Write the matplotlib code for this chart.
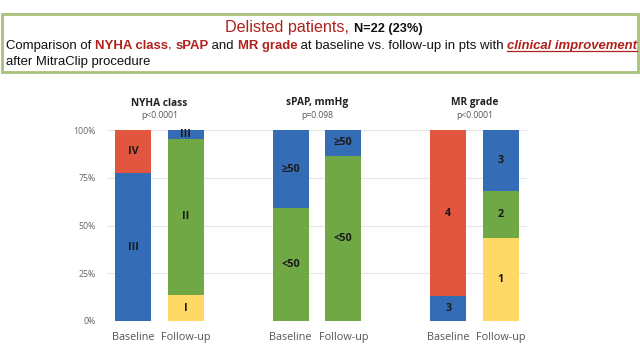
import numpy as np
import matplotlib
matplotlib.use("Agg")
import matplotlib.pyplot as plt
from matplotlib.patches import Rectangle
from matplotlib.transforms import blended_transform_factory

# data (percent of patients)
positions = [0, 1, 3, 4, 6, 7]
xlabels = ["Baseline", "Follow-up"] * 3
group_titles = ["NYHA class", "sPAP, mmHg", "MR grade"]
group_pvals = ["p<0.0001", "p=0.098", "p<0.0001"]

nyha_cats = ["I", "II", "III", "IV"]
nyha_base = [0, 0, 77.3, 22.7]
nyha_fu = [13.6, 81.9, 4.5, 0]

spap_cats = ["<50", "\u226550"]
spap_base = [59.1, 40.9]
spap_fu = [86.4, 13.6]

mr_cats = ["1", "2", "3", "4"]
mr_base = [0, 0, 13.0, 87.0]
mr_fu = [43.5, 24.5, 32.0, 0]

YELLOW = "#ffd966"
GREEN = "#6fa844"
BLUE = "#356cb6"
RED = "#e25640"
DARKRED = "#b0211b"

nyha_colors = [YELLOW, GREEN, BLUE, RED]
spap_colors = [GREEN, BLUE]
mr_colors = [YELLOW, GREEN, BLUE, RED]

W, H = 640, 360
fig = plt.figure(figsize=(6.4, 3.6), dpi=100)
fig.patch.set_facecolor("white")
renderer = fig.canvas.get_renderer()

# header box
fig.patches.append(Rectangle((2 / W, 1 - 72 / H), 636 / W, 58 / H, transform=fig.transFigure,
                             facecolor="white", edgecolor="#a8c27c", linewidth=2))


def rich(x, y, pieces, underline=()):
    # draw text pieces one after another, x,y in pixels from top-left
    for txt, kw in pieces:
        t = fig.text(x / W, 1 - y / H, txt, va="baseline", ha="left",
                     family="Liberation Sans", **kw)
        bb = t.get_window_extent(renderer)
        if txt in underline:
            fig.add_artist(plt.Line2D([bb.x0 / W, bb.x1 / W], [(H - y - 2) / H] * 2,
                                      color=kw.get("color", "k"), lw=0.9, transform=fig.transFigure))
        x = bb.x1


rich(225, 32, [("Delisted patients, ", dict(fontsize=11.6, color=DARKRED)),
               ("N=22 (23%)", dict(fontsize=9.2, weight="bold", color="#111111"))])
rb = dict(fontsize=9.45, weight="bold", color=DARKRED)
bk = dict(fontsize=9.45, color="#111111")
rich(6, 49, [("Comparison of ", bk), ("NYHA class", rb), (", ", bk), ("sPAP", rb),
             (" and ", bk), ("MR grade", rb), (" at baseline vs. follow-up in pts with ", bk),
             ("clinical improvement", dict(rb, style="italic"))],
     underline=("clinical improvement",))
rich(6, 65, [("after MitraClip procedure", bk)])

ax = fig.add_axes([107 / W, 1 - 321 / H, 420 / W, 191 / H])

bars = [(nyha_base, nyha_colors, nyha_cats), (nyha_fu, nyha_colors, nyha_cats),
        (spap_base, spap_colors, spap_cats), (spap_fu, spap_colors, spap_cats),
        (mr_base, mr_colors, mr_cats), (mr_fu, mr_colors, mr_cats)]

for pos, (vals, cols, cats) in zip(positions, bars):
    bottom = 0
    for v, c, lab in zip(vals, cols, cats):
        if v <= 0:
            continue
        ax.bar(pos, v / 100, bottom=bottom, width=0.69, color=c, zorder=2)
        ax.text(pos, bottom + v / 200, lab, ha="center", va="center", fontsize=7.8,
                weight="bold", color="#1a1a1a", family="Open Sans", zorder=3)
        bottom += v / 100

ax.set_xlim(-0.5, 7.5)
ax.set_ylim(0, 1)
ax.set_yticks([0, 0.25, 0.5, 0.75, 1])
ax.set_yticklabels(["0%", "25%", "50%", "75%", "100%"])
ax.set_xticks(positions)
ax.set_xticklabels(xlabels)
ax.grid(axis="y", color="#e6e6e6", lw=0.8, zorder=0)
for s in ax.spines.values():
    s.set_visible(False)
ax.tick_params(axis="both", length=0)
ax.tick_params(axis="y", labelsize=6.3, labelcolor="#666666", pad=8)
ax.tick_params(axis="x", labelsize=7.8, labelcolor="#555555", pad=8)
for lab in ax.get_xticklabels() + ax.get_yticklabels():
    lab.set_family("Open Sans")

tr = blended_transform_factory(ax.transData, fig.transFigure)
for gx, title, pv in zip([0.5, 3.5, 6.5], group_titles, group_pvals):
    ax.text(gx, 1 - 103 / H, title, transform=tr, ha="center", va="center", fontsize=7.3,
            weight="bold", color="#222222", family="Open Sans")
    ax.text(gx, 1 - 115 / H, pv, transform=tr, ha="center", va="center", fontsize=6.2,
            color="#555555", family="Open Sans")

fig.savefig("out.png", dpi=100, facecolor="white")
